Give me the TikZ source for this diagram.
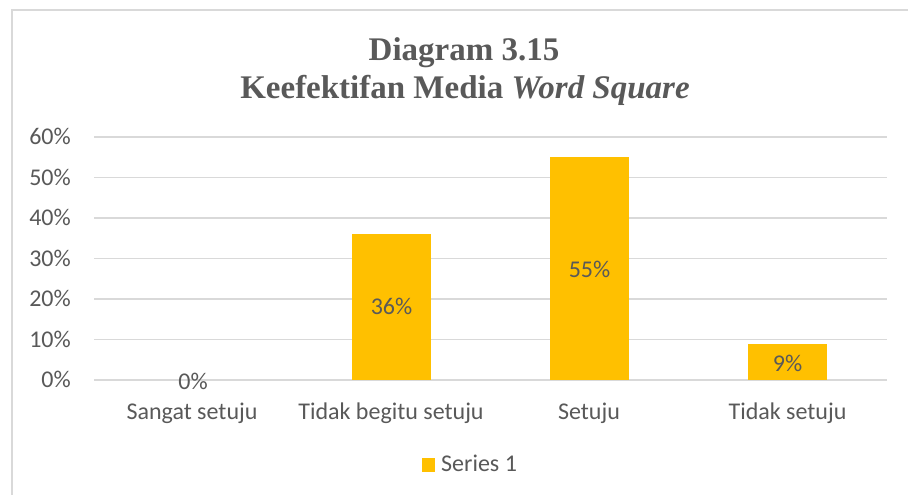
\documentclass[tikz,border=0pt]{standalone}
\usepackage{fontspec}
\setmainfont{Liberation Serif}
\newfontfamily\calfont{Carlito}
\definecolor{txt}{HTML}{595959}
\definecolor{grid}{HTML}{D9D9D9}
\definecolor{bar}{HTML}{FFC000}
\begin{document}
\begin{tikzpicture}[x=1pt,y=-1pt,
  gridline/.style={draw=grid,line width=1.3pt},
  barbox/.style={fill=bar,draw=none},
  lbl/.style={text=txt,font=\calfont\fontsize{24}{28}\selectfont,inner sep=0pt},
  ylab/.style={lbl,anchor=base east},
  clab/.style={lbl,anchor=base},
  dlab/.style={lbl,anchor=base},
  ttl/.style={anchor=base,text=txt,font=\bfseries\fontsize{33}{38}\selectfont,inner sep=0pt}]
\useasboundingbox (0,0) rectangle (908,495);
\fill[white] (0,0) rectangle (908,495);
\draw[grid,line width=1.3pt] (12,520) -- (12,10) -- (920,10);
% title
\node[ttl] (t1) at (464,61) {Diagram 3.15};
\node[ttl] (t2) at (465,99) {Keefektifan Media \textit{Word Square}};
% grid
\foreach \p [count=\i from 0] in {0,10,20,30,40,50,60} {
  \pgfmathsetmacro{\yy}{380-4.05*\p}
  \draw[gridline] (94,\yy) -- (887,\yy);
  \node[ylab] (y\i) at (71,\yy+7.5) {\p\%};
}
% bars
\path[barbox] (352,380) rectangle (431,234.2);
\path[barbox] (550,380) rectangle (629,157.25);
\path[barbox] (748,380) rectangle (827,343.55);
\node[dlab] (d1) at (193,389) {0\%};
\node[dlab] (d2) at (391.5,314.5) {36\%};
\node[dlab] (d3) at (589.5,277) {55\%};
\node[dlab] (d4) at (787.5,371) {9\%};
% categories
\node[clab] (c1) at (192,419.5) {Sangat setuju};
\node[clab] (c2) at (391,419.5) {Tidak begitu setuju};
\node[clab] (c3) at (589,419.5) {Setuju};
\node[clab] (c4) at (787.5,419.5) {Tidak setuju};
% legend
\fill[bar] (422,458) rectangle (435,472);
\node[lbl,anchor=base west] (lg) at (441,471.5) {Series 1};
\end{tikzpicture}
\end{document}
